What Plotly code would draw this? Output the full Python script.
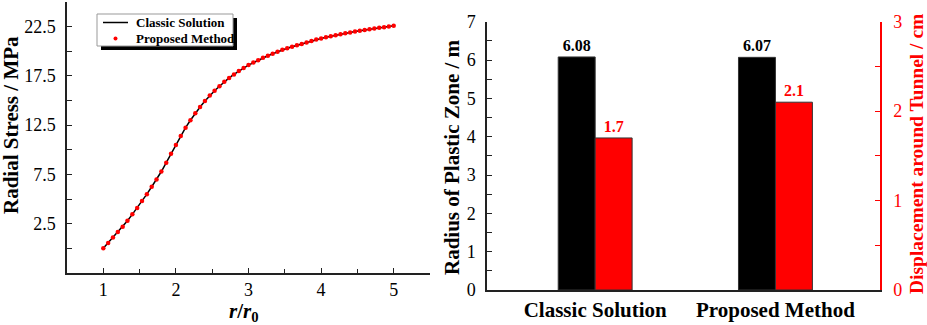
import plotly.graph_objects as go

W, H = 927, 325

# ---------------- data ----------------
r_ratio = [1.000, 1.067, 1.133, 1.200, 1.267, 1.333, 1.400, 1.467, 1.533, 1.600,
           1.667, 1.733, 1.800, 1.867, 1.933, 2.000, 2.067, 2.133, 2.200, 2.267,
           2.333, 2.400, 2.467, 2.533, 2.600, 2.667, 2.733, 2.800, 2.867, 2.933,
           3.000, 3.067, 3.133, 3.200, 3.267, 3.333, 3.400, 3.467, 3.533, 3.600,
           3.667, 3.733, 3.800, 3.867, 3.933, 4.000, 4.067, 4.133, 4.200, 4.267,
           4.333, 4.400, 4.467, 4.533, 4.600, 4.667, 4.733, 4.800, 4.867, 4.933,
           5.000]
radial_stress = [0.0, 0.55, 1.1, 1.65, 2.2, 2.8, 3.45, 4.1, 4.8, 5.5,
                 6.25, 7.0, 7.8, 8.7, 9.6, 10.5, 11.4, 12.25, 13.0, 13.7,
                 14.35, 14.95, 15.5, 16.0, 16.45, 16.9, 17.3, 17.65, 18.0, 18.3,
                 18.6, 18.85, 19.1, 19.35, 19.55, 19.75, 19.95, 20.15, 20.3, 20.45,
                 20.6, 20.75, 20.9, 21.05, 21.2, 21.3, 21.42, 21.53, 21.63, 21.73,
                 21.82, 21.91, 22.0, 22.08, 22.16, 22.24, 22.31, 22.38, 22.45, 22.52,
                 22.6]

methods = ["Classic Solution", "Proposed Method"]
plastic_radius = [6.08, 6.07]        # m
displacement = [1.7, 2.1]            # cm

left_ytickvals = [2.5, 7.5, 12.5, 17.5, 22.5]
left_yticktext = ["2.5", "7.5", "12.5", "17.5", "22.5"]

FONT = "Liberation Serif"
RED = "#ff0000"


def px_x(p):
    return p / W


def px_y(p):
    return 1 - p / H


fig = go.Figure()

# ---------------- left chart ----------------
fig.add_trace(go.Scatter(
    x=r_ratio, y=radial_stress, mode="lines", name="Classic Solution",
    line=dict(color="black", width=1.5), xaxis="x", yaxis="y", showlegend=False))
fig.add_trace(go.Scatter(
    x=r_ratio, y=radial_stress, mode="markers", name="Proposed Method",
    marker=dict(color=RED, size=4.5), xaxis="x", yaxis="y", showlegend=False))

# ---------------- right chart ----------------
fig.add_trace(go.Bar(
    x=methods, y=plastic_radius, name="Radius of Plastic Zone",
    marker=dict(color="black", line=dict(color="#333333", width=1)),
    offset=-0.205, width=0.205,
    text=[f"<b>{v:.2f}</b>" for v in plastic_radius], textposition="outside",
    textfont=dict(family=FONT, size=16, color="black"),
    cliponaxis=False, xaxis="x2", yaxis="y2", showlegend=False))
fig.add_trace(go.Bar(
    x=methods, y=displacement, name="Displacement around Tunnel",
    marker=dict(color=RED, line=dict(color="#333333", width=1)),
    offset=0.0, width=0.205,
    text=[f"<b>{v:.1f}</b>" for v in displacement], textposition="outside",
    textfont=dict(family=FONT, size=16, color=RED),
    cliponaxis=False, xaxis="x2", yaxis="y3", showlegend=False))

tickfont = dict(family=FONT, size=18, color="black")

fig.update_layout(
    width=W, height=H,
    margin=dict(l=0, r=0, t=0, b=0, autoexpand=False),
    paper_bgcolor="white", plot_bgcolor="white",
    font=dict(family=FONT, color="black"),
    barmode="overlay",
    xaxis=dict(
        domain=[px_x(67), px_x(430)], range=[0.5, 5.5], anchor="y",
        showgrid=False, zeroline=False, showline=True, linecolor="#222", linewidth=1.5,
        ticks="inside", ticklen=5, tickwidth=1.2, tickcolor="#222",
        tickmode="array", tickvals=[1, 2, 3, 4, 5], ticktext=["1", "2", "3", "4", "5"],
        minor=dict(tickmode="array", tickvals=[1.5, 2.5, 3.5, 4.5, 5.5],
                   ticks="inside", ticklen=4, tickwidth=1.2, tickcolor="#222"),
        tickfont=tickfont, ticklabelstandoff=0, automargin=False),
    yaxis=dict(
        domain=[px_y(273), px_y(2)], range=[-2.5, 25], anchor="x",
        showgrid=False, zeroline=False, showline=True, linecolor="#222", linewidth=1.5,
        ticks="inside", ticklen=5, tickwidth=1.2, tickcolor="#222",
        tickmode="array", tickvals=left_ytickvals, ticktext=left_yticktext,
        minor=dict(tickmode="array", tickvals=[0, 5, 10, 15, 20, 25],
                   ticks="inside", ticklen=5, tickwidth=1.2, tickcolor="#222"),
        tickfont=tickfont, ticklabelstandoff=6, automargin=False),
    xaxis2=dict(
        domain=[px_x(487), px_x(880)], range=[-0.6, 1.58], anchor="y2",
        type="category", showgrid=False, zeroline=False, showline=True,
        linecolor="#222", linewidth=1.5, ticks="",
        tickfont=dict(family=FONT, size=21, color="black"), ticklabelstandoff=0,
        tickmode="array", tickvals=methods,
        ticktext=[f"<b>{m}</b>" for m in methods], automargin=False),
    yaxis2=dict(
        domain=[px_y(290), px_y(21.7)], range=[0, 7], anchor="x2",
        showgrid=False, zeroline=False, showline=True, linecolor="#222", linewidth=1.5,
        ticks="inside", ticklen=5, tickwidth=1.2, tickcolor="#222",
        dtick=1, tick0=0,
        minor=dict(dtick=0.5, ticks="inside", ticklen=5, tickwidth=1.2, tickcolor="#222"),
        tickfont=tickfont, ticklabelstandoff=6, automargin=False),
    yaxis3=dict(
        domain=[px_y(290), px_y(21.7)], range=[0, 3], anchor="x2",
        overlaying="y2", side="right",
        showgrid=False, zeroline=False, showline=True, linecolor=RED, linewidth=1.5,
        ticks="inside", ticklen=5, tickwidth=1.2, tickcolor=RED,
        dtick=1, tick0=0,
        minor=dict(dtick=0.5, ticks="inside", ticklen=5, tickwidth=1.2, tickcolor=RED),
        tickfont=dict(family=FONT, size=18, color=RED), ticklabelstandoff=8,
        automargin=False),
)

# axis titles (annotations for exact placement)
annotations = [
    dict(text="<b>Radial Stress / MPa</b>", x=px_x(11), y=px_y(125),
         textangle=-90, font=dict(family=FONT, size=21, color="black")),
    dict(text="<b><i>r</i>/<i>r</i><sub>0</sub></b>", x=px_x(244), y=px_y(312),
         font=dict(family=FONT, size=21, color="black")),
    dict(text="<b>Radius of Plastic Zone / m</b>", x=px_x(452), y=px_y(157),
         textangle=-90, font=dict(family=FONT, size=21, color="black")),
    dict(text="<b>Displacement around Tunnel / cm</b>", x=px_x(916), y=px_y(154),
         textangle=-90, font=dict(family=FONT, size=19.5, color=RED)),
    # legend text
    dict(text="<b>Classic Solution</b>", x=px_x(134), y=px_y(22.5), xanchor="left",
         font=dict(family=FONT, size=13, color="black")),
    dict(text="<b>Proposed Method</b>", x=px_x(134), y=px_y(38.5), xanchor="left",
         font=dict(family=FONT, size=13, color="black")),
]
for a in annotations:
    a.setdefault("xanchor", "center")
    a.update(xref="paper", yref="paper", yanchor="middle", showarrow=False)
fig.update_layout(annotations=annotations)

# manual legend box with drop shadow
shapes = [
    dict(type="rect", x0=px_x(101), x1=px_x(237), y0=px_y(50), y1=px_y(18),
         fillcolor="black", line=dict(width=0)),
    dict(type="rect", x0=px_x(97), x1=px_x(233), y0=px_y(46), y1=px_y(14),
         fillcolor="white", line=dict(color="#999999", width=1)),
    dict(type="line", x0=px_x(103), x1=px_x(128), y0=px_y(22.5), y1=px_y(22.5),
         line=dict(color="black", width=1.5)),
    dict(type="circle", x0=px_x(113.5), x1=px_x(117.5), y0=px_y(40.5), y1=px_y(36.5),
         fillcolor=RED, line=dict(width=0)),
]
for s in shapes:
    s.update(xref="paper", yref="paper", layer="above")
fig.update_layout(shapes=shapes)

fig.write_html(
    "out.html",
    config={"displayModeBar": False},
    post_script="document.body.style.margin='0';document.body.style.overflow='hidden';",
)
